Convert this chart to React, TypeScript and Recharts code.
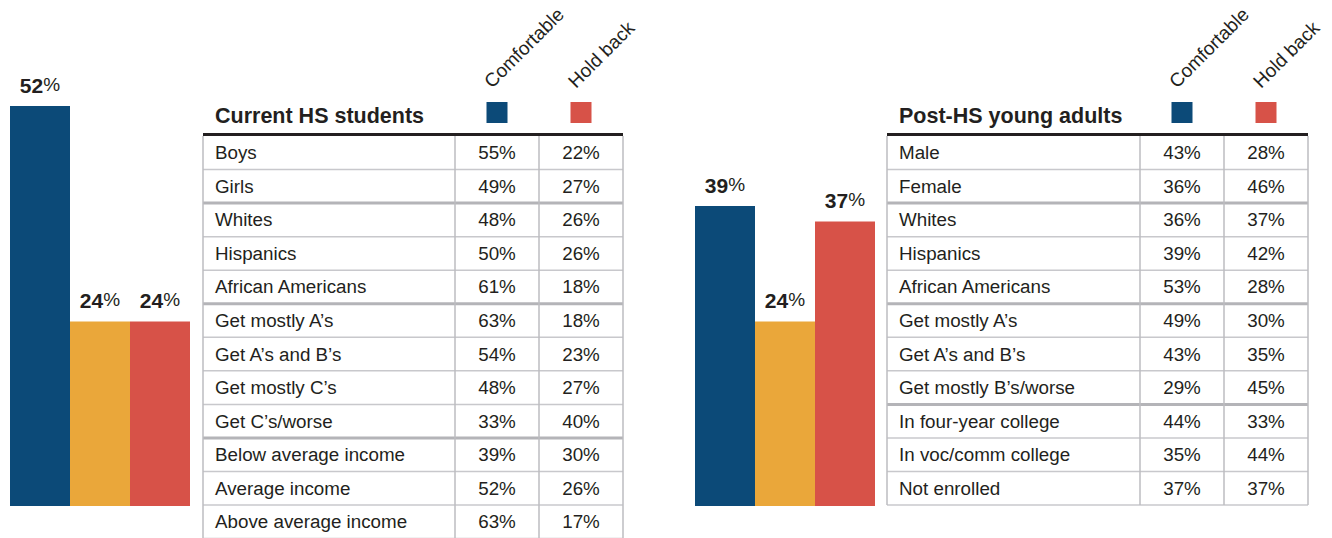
import React from "react";
import { BarChart, Bar, Cell, XAxis, YAxis, LabelList } from "recharts";

const barGroups = ["Comfortable", "Mixed", "Hold back"];
const hsBarValues = [52, 24, 24];
const postBarValues = [39, 24, 37];

const hsRows = [
  "Boys",
  "Girls",
  "Whites",
  "Hispanics",
  "African Americans",
  "Get mostly A\u2019s",
  "Get A\u2019s and B\u2019s",
  "Get mostly C\u2019s",
  "Get C\u2019s/worse",
  "Below average income",
  "Average income",
  "Above average income",
];
const hsComfortable = [55, 49, 48, 50, 61, 63, 54, 48, 33, 39, 52, 63];
const hsHoldBack = [22, 27, 26, 26, 18, 18, 23, 27, 40, 30, 26, 17];
const hsBreaks = [2, 5, 9];

const postRows = [
  "Male",
  "Female",
  "Whites",
  "Hispanics",
  "African Americans",
  "Get mostly A\u2019s",
  "Get A\u2019s and B\u2019s",
  "Get mostly B\u2019s/worse",
  "In four-year college",
  "In voc/comm college",
  "Not enrolled",
];
const postComfortable = [43, 36, 36, 39, 53, 49, 43, 29, 44, 35, 37];
const postHoldBack = [28, 46, 37, 42, 28, 30, 35, 45, 33, 44, 37];
const postBreaks = [2, 5, 8];

const COLORS = ["#0c4a78", "#eaa73a", "#d75248"];
const FONT = "'Liberation Sans', Arial, sans-serif";
const TEXT = "#231f20";
const ROW_H = 33.55;
const TABLE_TOP = 136;

function BarLabel(props: any) {
  const { x, y, width, value } = props;
  return (
    <text x={x + width / 2} y={y - 13} textAnchor="middle" fill={TEXT} fontFamily={FONT}>
      <tspan fontSize={21} fontWeight={700}>
        {value}
      </tspan>
      <tspan fontSize={19} dy={-2}>
        %
      </tspan>
    </text>
  );
}

function GroupBars({ values, left }: { values: number[]; left: number }) {
  const data = barGroups.map((name, i) => ({ name, value: values[i] }));
  return (
    <div style={{ position: "absolute", left, top: 6 }}>
      <BarChart
        width={180}
        height={500}
        data={data}
        margin={{ top: 0, right: 0, bottom: 0, left: 0 }}
        barCategoryGap={0}
        style={{ overflow: "visible" }}
      >
        <XAxis dataKey="name" hide />
        <YAxis hide domain={[0, 65]} />
        <Bar dataKey="value" isAnimationActive={false}>
          {data.map((_, i) => (
            <Cell key={i} fill={COLORS[i]} />
          ))}
          <LabelList dataKey="value" content={BarLabel} />
        </Bar>
      </BarChart>
    </div>
  );
}

function DataTable({
  left,
  labelW,
  title,
  rows,
  comf,
  hold,
  breaks,
}: {
  left: number;
  labelW: number;
  title: string;
  rows: string[];
  comf: number[];
  hold: number[];
  breaks: number[];
}) {
  const colW = 84;
  const w = labelW + colW * 2;
  const bottom = TABLE_TOP + rows.length * ROW_H;
  const c1 = labelW + colW / 2;
  const c2 = labelW + colW * 1.5;
  return (
    <svg
      width={w + 40}
      height={538}
      style={{ position: "absolute", left: left - 2, top: 0, overflow: "visible" }}
      fontFamily={FONT}
    >
      <g transform="translate(2,0)">
        <text x={12} y={122.5} fontSize={21.5} fontWeight={700} fill={TEXT}>
          {title}
        </text>
        <rect x={c1 - 10.5} y={102} width={21} height={21} fill={COLORS[0]} />
        <rect x={c2 - 10.5} y={102} width={21} height={21} fill={COLORS[2]} />
        <text
          x={c1 - 5}
          y={89}
          fontSize={19}
          fill={TEXT}
          transform={`rotate(-45 ${c1 - 5} 89)`}
        >
          Comfortable
        </text>
        <text
          x={c2 - 5}
          y={89}
          fontSize={19}
          fill={TEXT}
          transform={`rotate(-45 ${c2 - 5} 89)`}
        >
          Hold back
        </text>

        {rows.map((r, i) => {
          const top = TABLE_TOP + i * ROW_H;
          const base = top + ROW_H / 2 + 6.5;
          return (
            <g key={r}>
              <text x={12} y={base} fontSize={18.8} fill={TEXT}>
                {r}
              </text>
              <text x={c1} y={base} fontSize={18.8} fill={TEXT} textAnchor="middle">
                {comf[i]}%
              </text>
              <text x={c2} y={base} fontSize={18.8} fill={TEXT} textAnchor="middle">
                {hold[i]}%
              </text>
            </g>
          );
        })}

        {rows.map((_, i) =>
          i === 0 ? null : (
            <line
              key={`h${i}`}
              x1={0}
              x2={w}
              y1={TABLE_TOP + i * ROW_H}
              y2={TABLE_TOP + i * ROW_H}
              stroke={breaks.includes(i) ? "#b4b4b8" : "#c8c8cc"}
              strokeWidth={breaks.includes(i) ? 3 : 1.5}
            />
          )
        )}
        <line x1={0} x2={w} y1={bottom} y2={bottom} stroke="#c8c8cc" strokeWidth={1.5} />
        {[0, labelW, labelW + colW, w].map((x) => (
          <line key={`v${x}`} x1={x} x2={x} y1={TABLE_TOP} y2={bottom} stroke="#bcbcc0" strokeWidth={1.5} />
        ))}
        <line x1={0} x2={w} y1={134.5} y2={134.5} stroke="#231f20" strokeWidth={3} />
      </g>
    </svg>
  );
}

export default function App() {
  return (
    <div
      style={{
        position: "absolute",
        left: 0,
        top: 0,
        width: 1332,
        height: 538,
        overflow: "hidden",
        background: "#fff",
        fontFamily: FONT,
      }}
    >
      <GroupBars values={hsBarValues} left={10} />
      <DataTable
        left={203}
        labelW={252}
        title="Current HS students"
        rows={hsRows}
        comf={hsComfortable}
        hold={hsHoldBack}
        breaks={hsBreaks}
      />
      <GroupBars values={postBarValues} left={695} />
      <DataTable
        left={887}
        labelW={253}
        title="Post-HS young adults"
        rows={postRows}
        comf={postComfortable}
        hold={postHoldBack}
        breaks={postBreaks}
      />
    </div>
  );
}
